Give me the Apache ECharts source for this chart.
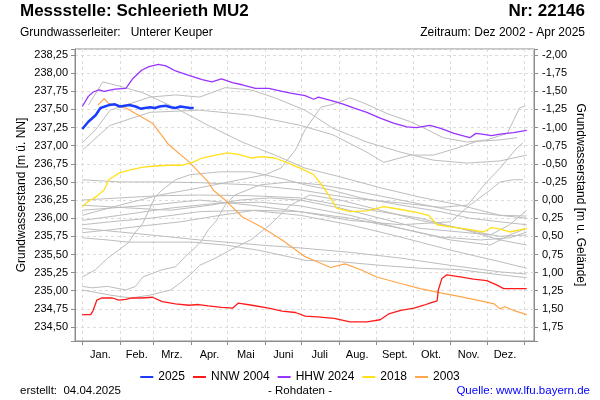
<!DOCTYPE html>
<html><head><meta charset="utf-8">
<script src="https://cdn.jsdelivr.net/npm/echarts/dist/echarts.min.js"></script>
<style>html,body{margin:0;padding:0;background:#fff}#c{width:600px;height:400px}</style>
</head><body><div id="c"></div><script>
// ---- data: [day of year, level m ü. NN] ----
const monthNames = ['Jan.','Feb.','Mrz.','Apr.','Mai','Juni','Juli','Aug.','Sept.','Okt.','Nov.','Dez.'];
const monthStarts = [0,31,59,90,120,151,181,212,243,273,304,334,365];
const monthMids = [15,45,74,105,135,166,196,227,258,288,319,349];
const groundLevel = 236.25;

const s2025 = [[0,237.23],[5,237.33],[11,237.42],[15,237.52],[22,237.56],[27,237.57],[31,237.54],[35,237.55],[39,237.56],[44,237.54],[48,237.51],[52,237.52],[56,237.53],[60,237.52],[64,237.54],[69,237.55],[73,237.53],[77,237.52],[81,237.54],[85,237.53],[89,237.52],[92,237.52]];
const sNNW2004 = [[0,234.67],[7,234.67],[9,234.73],[12,234.87],[16,234.90],[25,234.90],[30,234.87],[36,234.88],[41,234.90],[49,234.90],[58,234.91],[66,234.85],[77,234.82],[88,234.80],[96,234.81],[104,234.79],[115,234.77],[124,234.76],[129,234.83],[140,234.80],[154,234.76],[165,234.72],[176,234.70],[184,234.65],[194,234.64],[208,234.62],[221,234.57],[235,234.57],[246,234.60],[253,234.68],[263,234.73],[274,234.76],[282,234.80],[287,234.83],[293,234.86],[294,235.01],[297,235.17],[301,235.22],[312,235.19],[323,235.16],[334,235.14],[342,235.08],[348,235.03],[359,235.03],[367,235.03]];
const sHHW2024 = [[0,237.54],[5,237.68],[9,237.74],[14,237.77],[18,237.75],[27,237.78],[36,237.79],[42,237.93],[49,238.04],[55,238.09],[63,238.12],[69,238.10],[77,238.03],[88,237.97],[99,237.91],[107,237.88],[115,237.92],[124,237.87],[132,237.84],[143,237.79],[154,237.79],[165,237.75],[173,237.72],[184,237.69],[191,237.64],[195,237.67],[208,237.61],[216,237.57],[224,237.52],[235,237.46],[246,237.38],[257,237.31],[268,237.26],[276,237.25],[287,237.28],[296,237.24],[307,237.17],[320,237.11],[325,237.17],[330,237.16],[338,237.14],[345,237.16],[356,237.18],[367,237.21]];
const s2018 = [[0,236.16],[5,236.23],[11,236.29],[18,236.39],[22,236.53],[30,236.62],[38,236.66],[49,236.70],[60,236.72],[71,236.73],[82,236.73],[91,236.77],[99,236.83],[110,236.87],[120,236.90],[129,236.88],[140,236.83],[148,236.85],[159,236.83],[170,236.76],[180,236.69],[191,236.60],[199,236.43],[205,236.28],[210,236.14],[221,236.09],[235,236.10],[249,236.16],[263,236.12],[276,236.08],[286,236.04],[293,235.91],[304,235.88],[318,235.85],[331,235.81],[338,235.87],[345,235.85],[353,235.81],[367,235.86]];
const s2003 = [[13,237.56],[18,237.65],[22,237.58],[36,237.52],[58,237.31],[71,237.02],[88,236.78],[104,236.50],[108,236.39],[118,236.25],[132,236.02],[148,235.88],[165,235.70],[184,235.47],[191,235.42],[205,235.32],[217,235.37],[230,235.29],[243,235.19],[263,235.10],[279,235.03],[296,234.97],[312,234.92],[329,234.86],[340,234.82],[345,234.75],[349,234.78],[356,234.73],[367,234.67]];

// other years (grey)
const gA = [[0,237.04],[11,237.22],[23,237.49],[36,237.56],[56,237.67],[77,237.70],[97,237.67],[118,237.80],[139,237.77],[159,237.66],[184,237.49],[207,237.24],[235,237.05],[263,236.91],[290,236.80],[318,236.76],[345,236.79],[367,236.87]];
const gB = [[5,237.56],[17,237.88],[31,237.82],[50,237.73],[77,237.52],[104,237.28],[132,237.05],[159,236.87],[184,236.69],[213,236.57],[246,236.42],[279,236.29],[312,236.18],[345,236.04],[367,236.00]];
const gC = [[0,236.04],[31,236.18],[64,236.32],[97,236.42],[130,236.53],[151,236.60],[164,236.69],[176,236.94],[184,237.22],[197,237.53],[207,237.57],[221,237.66],[235,237.57],[252,237.44],[271,237.33],[285,237.22],[298,237.11],[318,237.05],[334,237.08],[351,237.17],[361,237.52],[366,237.55]];
const gD = [[0,236.94],[23,237.28],[56,237.46],[97,237.49],[139,237.42],[180,237.28],[207,237.15],[235,236.91],[249,236.77],[271,236.87],[290,236.87],[310,236.97],[326,237.06],[345,237.08],[359,237.11]];
const gE = [[0,236.53],[31,236.50],[64,236.50],[97,236.49],[139,236.46],[180,236.39],[221,236.28],[263,236.21],[296,236.15],[318,236.18],[334,236.50],[345,236.69],[359,236.97],[364,237.04]];
const gF = [[0,236.11],[56,236.18],[97,236.25],[139,236.18],[180,236.09],[221,235.97],[263,235.91],[304,235.95],[320,236.18],[337,236.39],[345,236.50],[356,236.53],[364,236.53]];
const gG = [[0,235.19],[11,235.29],[21,235.45],[30,235.56],[38,235.66],[44,235.81],[50,235.93],[55,236.11],[60,236.29],[66,236.39],[77,236.53],[89,236.60],[114,236.64],[139,236.64],[164,236.55],[184,236.46],[205,236.39],[230,236.28],[263,236.18],[296,236.09],[320,236.00],[345,235.95],[367,235.91]];
const gH = [[0,235.06],[8,235.04],[21,235.06],[36,235.01],[44,235.06],[50,235.19],[58,235.24],[66,235.29],[77,235.33],[85,235.47],[93,235.59],[99,235.70],[104,235.84],[110,235.95],[118,236.18],[126,236.32],[147,236.46],[172,236.50],[197,236.46],[221,236.39],[263,236.25],[304,236.11],[345,236.04],[367,236.03]];
const gI = [[0,235.73],[21,235.70],[38,235.67],[63,235.67],[91,235.67],[118,235.63],[145,235.56],[184,235.42],[213,235.40],[246,235.35],[279,235.31],[312,235.29],[345,235.22],[367,235.18]];
const gJ = [[0,235.91],[23,235.95],[56,236.00],[97,236.09],[139,236.11],[180,236.04],[221,235.91],[263,235.74],[304,235.56],[345,235.40],[367,235.31]];
const gK = [[0,235.97],[31,236.04],[73,236.14],[114,236.21],[147,236.22],[180,236.17],[221,236.04],[263,235.86],[304,235.70],[337,235.63],[353,235.77],[367,235.86]];
const gL = [[0,236.18],[40,236.14],[73,236.11],[106,236.18],[130,236.25],[155,236.28],[180,236.25],[213,236.14],[246,236.00],[279,235.86],[312,235.81],[337,235.77],[353,235.91],[367,236.11]];
const gM = [[0,235.80],[23,235.84],[48,235.89],[81,235.95],[114,236.04],[143,236.11],[180,236.09],[221,236.00],[263,235.86],[296,235.74],[329,235.70],[353,235.73],[367,235.81]];
const gN = [[0,236.25],[31,236.28],[64,236.31],[97,236.32],[139,236.31],[180,236.28],[213,236.18],[246,236.09],[279,236.00],[304,235.89],[329,235.80],[345,235.75],[367,235.77]];
const gO = [[0,235.01],[23,234.94],[40,234.90],[56,234.94],[73,235.01],[81,235.11],[89,235.22],[97,235.35],[110,235.45],[122,235.56],[139,235.70],[155,235.91],[172,236.18],[188,236.32],[213,236.25],[246,236.11],[279,235.97],[312,235.86],[345,235.70],[367,235.63]];
const gP = [[0,235.86],[56,235.77],[97,235.70],[147,235.63],[180,235.59],[221,235.53],[263,235.45],[304,235.35],[345,235.26],[367,235.23]];
const greyYears = [gA,gB,gC,gD,gE,gF,gG,gH,gI,gJ,gK,gL,gM,gN,gO,gP];

// ---- chart ----
const FONT = '"Liberation Sans", Arial, sans-serif';
const leftMin = 234.307, leftMax = 238.333;
const fmt = v => (Math.abs(v) < 1e-9 ? 0 : v).toFixed(2).replace('.', ',');
const onGrid = v => Math.abs(v * 4 - Math.round(v * 4)) < 1e-6;
const axisGrey = '#8c8c8c';

const series = [];
greyYears.forEach((d, i) => series.push({
  name: 'g' + i, type: 'line', data: d, showSymbol: false, symbol: 'none', silent: true,
  lineStyle: { color: '#bdbdbd', width: 1 }, z: 1, animation: false
}));
const main = [
  ['2003', s2003, '#ffa64d', 1.2],
  ['2018', s2018, '#ffe01a', 1.3],
  ['HHW 2024', sHHW2024, '#9933ff', 1.3],
  ['NNW 2004', sNNW2004, '#ff1a1a', 1.3],
  ['2025', s2025, '#1a3cff', 2.5]
];
main.forEach(([n, d, c, w]) => series.push({
  name: n, type: 'line', data: d, showSymbol: false, symbol: 'none', color: c,
  lineStyle: { color: c, width: w }, z: 3, animation: false
}));

const chart = echarts.init(document.getElementById('c'), null, { renderer: 'canvas' });
chart.setOption({
  animation: false,
  backgroundColor: '#fff',
  grid: { left: 75, right: 66, top: 49, bottom: 59, show: true, borderColor: axisGrey, borderWidth: 1 },
  xAxis: {
    type: 'value', min: -6, max: 373,
    axisLine: { show: true, onZero: false, lineStyle: { color: axisGrey } },
    axisTick: { show: true, customValues: monthStarts, length: 4, lineStyle: { color: axisGrey } },
    axisLabel: { customValues: monthMids, formatter: v => monthNames[monthMids.indexOf(v)] || '',
      fontFamily: FONT, fontSize: 11, color: '#000', margin: 8 },
    splitLine: { show: true, lineStyle: { color: '#dcdcdc', type: [3, 3] } }
  },
  yAxis: [{
    type: 'value', position: 'left', min: leftMin, max: leftMax, minInterval: 0.25, maxInterval: 0.25, splitNumber: 16,
    axisLine: { show: true, onZero: false, lineStyle: { color: axisGrey } },
    axisTick: { show: true, length: 4, lineStyle: { color: axisGrey } },
    axisLabel: { formatter: v => onGrid(v) ? fmt(v) : '', fontFamily: FONT, fontSize: 11, color: '#000', margin: 7 },
    splitLine: { show: true, lineStyle: { color: '#dcdcdc', type: [3, 3] } }
  }, {
    type: 'value', position: 'right', inverse: true,
    min: groundLevel - leftMax, max: groundLevel - leftMin, minInterval: 0.25, maxInterval: 0.25, splitNumber: 16,
    axisLine: { show: true, onZero: false, lineStyle: { color: axisGrey } },
    axisTick: { show: true, length: 4, lineStyle: { color: axisGrey } },
    axisLabel: { formatter: v => onGrid(v) ? fmt(v) : '', fontFamily: FONT, fontSize: 11, color: '#000', margin: 8 },
    splitLine: { show: false }
  }],
  legend: {
    data: ['2025', 'NNW 2004', 'HHW 2024', '2018', '2003'],
    left: 'center', top: 366, icon: 'rect', itemWidth: 13, itemHeight: 2, itemGap: 8,
    textStyle: { fontFamily: FONT, fontSize: 12, color: '#000' }
  },
  graphic: [
    { type: 'text', left: 20, top: 3, style: { text: 'Messstelle: Schleerieth MU2', font: 'bold 17px ' + FONT, fill: '#000' } },
    { type: 'text', right: 15, top: 3, style: { text: 'Nr: 22146', font: 'bold 17px ' + FONT, fill: '#000' } },
    { type: 'text', left: 20, top: 27, style: { text: 'Grundwasserleiter:   Unterer Keuper', font: '12px ' + FONT, fill: '#000' } },
    { type: 'text', right: 15, top: 27, style: { text: 'Zeitraum: Dez 2002 - Apr 2025', font: '12px ' + FONT, fill: '#000' } },
    { type: 'text', x: 22, y: 195, rotation: Math.PI / 2, style: { text: 'Grundwasserstand [m ü. NN]', font: '12px ' + FONT, fill: '#000', align: 'center', verticalAlign: 'middle' } },
    { type: 'text', x: 580, y: 195, rotation: -Math.PI / 2, style: { text: 'Grundwasserstand [m u. Gelände]', font: '12px ' + FONT, fill: '#000', align: 'center', verticalAlign: 'middle' } },
    { type: 'text', left: 20, top: 385, style: { text: 'erstellt:  04.04.2025', font: '11.5px ' + FONT, fill: '#000' } },
    { type: 'text', x: 300, y: 391, style: { text: '- Rohdaten -', font: '11.5px ' + FONT, fill: '#000', align: 'center', verticalAlign: 'middle' } },
    { type: 'text', right: 10, top: 385, style: { text: 'Quelle: www.lfu.bayern.de', font: '11.5px ' + FONT, fill: '#0000ff' } }
  ],
  series: series
});
</script></body></html>
